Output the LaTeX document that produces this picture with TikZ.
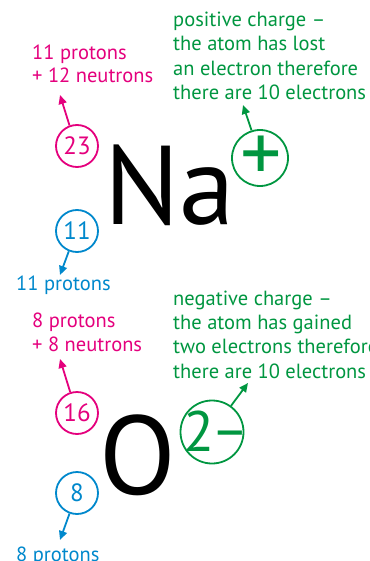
\documentclass[tikz,border=0pt]{standalone}
\usepackage{fontspec}
\setmainfont{PT Sans}
\usetikzlibrary{arrows.meta}
\definecolor{pinkc}{RGB}{228,0,125}
\definecolor{bluec}{RGB}{0,136,204}
\definecolor{greenc}{RGB}{0,150,64}
\tikzset{
  lbl/.style={anchor=base west, inner sep=0pt, font=\fontsize{20.5}{24}\selectfont},
  num/.style={circle, draw, line width=1.8pt, minimum size=42pt, inner sep=0pt, font=\fontsize{25}{25}\selectfont},
  arr/.style={line width=1.8pt, -{Triangle[length=9pt,width=8pt]}},
  big/.style={inner sep=0pt, font=\fontsize{112}{112}\selectfont},
}
\begin{document}
\begin{tikzpicture}[x=1pt,y=-1pt]
\useasboundingbox (0,0) rectangle (369,561);
\clip (0,0) rectangle (369,561);
% Na block
\node[lbl, text=pinkc] (l23a) at (32,60) {11 protons};
\node[lbl, text=pinkc] (l23b) at (32,83) {+ 12 neutrons};
\node[lbl, text=greenc] (lpa) at (173,27) {positive charge –};
\node[lbl, text=greenc] (lpb) at (173,51) {the atom has lost};
\node[lbl, text=greenc] (lpc) at (173,76) {an electron therefore};
\node[lbl, text=greenc] (lpd) at (173,100) {there are 10 electrons};
\node[num, draw=pinkc, text=pinkc] (c23) at (77,146) {23};
\node[num, draw=bluec, text=bluec] (c11) at (77,231) {11};
\node[big, anchor=base west] (na) at (104,224) {Na};
\node[circle, draw=greenc, line width=1.8pt, minimum size=56pt, inner sep=0pt] (cp) at (260,158) {};
\node[text=greenc, inner sep=0pt, font=\fontsize{82}{82}\selectfont] (plus) at (261,159) {+};
\node[lbl, text=bluec] (l11) at (16,290) {11 protons};
\coordinate (t23) at (60,95);
\coordinate (tp) at (243,105);
\coordinate (t11) at (60,275);
\draw[arr, pinkc] (c23.110) -- (t23);
\draw[arr, greenc] (cp.107) -- (tp);
\draw[arr, bluec] (c11.248) -- (t11);
% O block
\node[lbl, text=pinkc] (l16a) at (32,327) {8 protons};
\node[lbl, text=pinkc] (l16b) at (32,351) {+ 8 neutrons};
\node[lbl, text=greenc] (lna) at (173,305) {negative charge –};
\node[lbl, text=greenc] (lnb) at (173,329) {the atom has gained};
\node[lbl, text=greenc] (lnc) at (173,353) {two electrons therefore};
\node[lbl, text=greenc] (lnd) at (173,378) {there are 10 electrons};
\node[num, draw=pinkc, text=pinkc] (c16) at (77,413) {16};
\node[num, draw=bluec, text=bluec] (c8) at (77,493) {8};
\node[big, anchor=base west] (o) at (99,494) {O};
\node[circle, draw=greenc, line width=1.8pt, minimum size=63pt, inner sep=0pt] (cm) at (212,432) {};
\node[text=greenc, inner sep=0pt, font=\fontsize{57}{57}\selectfont] (minus) at (216,431) {2\kern-3pt\raisebox{1.5pt}{–}};
\node[lbl, text=bluec] (l8) at (16,561) {8 protons};
\coordinate (t16) at (60,359);
\coordinate (tm) at (248,383);
\coordinate (t8) at (60,540);
\draw[arr, pinkc] (c16.108) -- (t16);
\draw[arr, greenc] (cm.54) -- (tm);
\draw[arr, bluec] (c8.250) -- (t8);
\end{tikzpicture}
\end{document}
